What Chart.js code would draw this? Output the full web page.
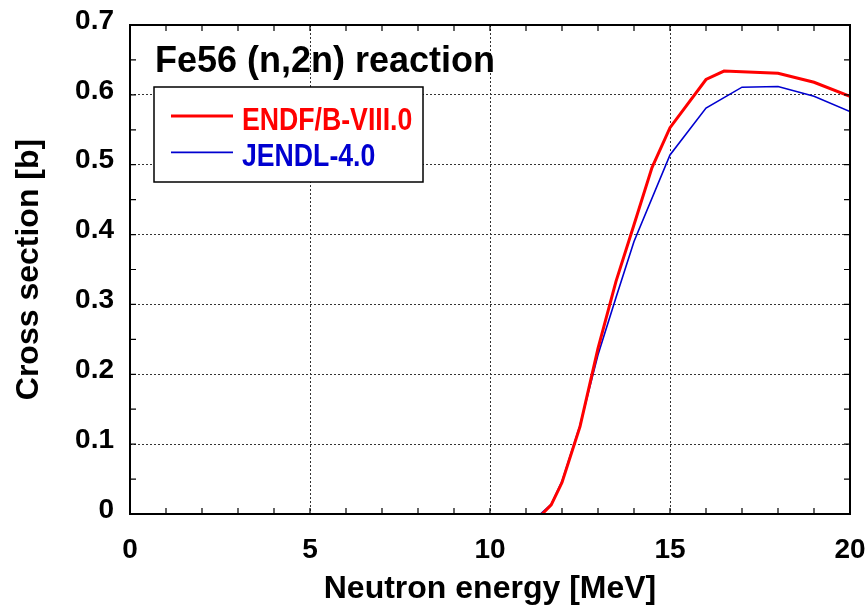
<!DOCTYPE html>
<html>
<head>
<meta charset="utf-8">
<script src="https://cdn.jsdelivr.net/npm/chart.js@4.4.1/dist/chart.umd.min.js"></script>
<style>
  html, body { margin: 0; padding: 0; background: #fff; }
  canvas { display: block; }
</style>
</head>
<body>
<canvas id="xsChart" width="865" height="609"></canvas>
<script>
// Fe56 (n,2n) cross section, two evaluations
const endfEnergy = [11.45, 11.7, 12.0, 12.5, 13.0, 13.5, 14.0, 14.5, 15.0, 16.0, 16.5, 18.0, 19.0, 20.0]
const endfXs     = [0, 0.013, 0.045, 0.125, 0.237, 0.333, 0.414, 0.496, 0.553, 0.622, 0.634, 0.631, 0.618, 0.598]

const jendlEnergy = [11.4, 11.7, 12.0, 12.5, 13.0, 13.5, 14.0, 15.0, 16.0, 17.0, 18.0, 19.0, 20.0]
const jendlXs     = [0, 0.014, 0.047, 0.127, 0.228, 0.31, 0.39, 0.514, 0.581, 0.611, 0.612, 0.598, 0.576]

const seriesLabels = ['ENDF/B-VIII.0', 'JENDL-4.0']
const seriesColors = ['#ff0000', '#0000d0']
const titleText = 'Fe56 (n,2n) reaction'

const FONT = '"Liberation Sans", Arial, sans-serif'

const toPoints = (xs, ys) => xs.map((x, i) => ({ x, y: ys[i] }))

// frame, inward tick marks, title and legend inside the plot
const framePlugin = {
  id: 'framePlugin',
  afterDatasetsDraw(chart) {
    const { ctx, chartArea: a, scales } = chart
    const xs = scales.x
    const ys = scales.y
    ctx.save()

    ctx.strokeStyle = '#000'
    ctx.lineWidth = 1.2
    ctx.beginPath()
    for (let e = 0; e <= 20; e += 1) {
      const px = xs.getPixelForValue(e)
      ctx.moveTo(px, a.bottom); ctx.lineTo(px, a.bottom - 6)
      ctx.moveTo(px, a.top); ctx.lineTo(px, a.top + 6)
    }
    for (let k = 0; k <= 14; k++) {
      const py = ys.getPixelForValue(k * 0.05)
      ctx.moveTo(a.left, py); ctx.lineTo(a.left + 6, py)
      ctx.moveTo(a.right, py); ctx.lineTo(a.right - 6, py)
    }
    ctx.stroke()

    ctx.lineWidth = 2
    ctx.strokeRect(a.left, a.top, a.right - a.left, a.bottom - a.top)

    // title
    ctx.fillStyle = '#000'
    ctx.font = 'bold 36px ' + FONT
    ctx.textBaseline = 'alphabetic'
    ctx.fillText(titleText, a.left + 25, a.top + 47)

    // legend box
    const bx = a.left + 24, by = a.top + 62, bw = 269, bh = 95
    ctx.fillStyle = '#fff'
    ctx.fillRect(bx, by, bw, bh)
    ctx.strokeStyle = '#000'
    ctx.lineWidth = 1.5
    ctx.strokeRect(bx, by, bw, bh)

    chart.data.datasets.forEach((ds, i) => {
      const ly = by + 29 + i * 36.4
      ctx.strokeStyle = ds.borderColor
      ctx.lineWidth = ds.borderWidth
      ctx.beginPath()
      ctx.moveTo(bx + 17, ly)
      ctx.lineTo(bx + 79, ly)
      ctx.stroke()

      ctx.save()
      ctx.translate(bx + 88, ly + 14)
      ctx.scale(0.86, 1)
      ctx.fillStyle = ds.borderColor
      ctx.font = 'bold 31px ' + FONT
      ctx.fillText(ds.label, 0, 0)
      ctx.restore()
    })

    ctx.restore()
  }
}

new Chart(document.getElementById('xsChart'), {
  type: 'line',
  data: {
    datasets: [
      {
        label: seriesLabels[0],
        data: toPoints(endfEnergy, endfXs),
        borderColor: seriesColors[0],
        borderWidth: 3,
        pointRadius: 0,
        tension: 0
      },
      {
        label: seriesLabels[1],
        data: toPoints(jendlEnergy, jendlXs),
        borderColor: seriesColors[1],
        borderWidth: 1.6,
        pointRadius: 0,
        tension: 0
      }
    ]
  },
  options: {
    responsive: false,
    animation: false,
    layout: { padding: { top: 25, right: 15, left: 0, bottom: 0 } },
    plugins: {
      legend: { display: false },
      tooltip: { enabled: false }
    },
    scales: {
      x: {
        type: 'linear',
        min: 0,
        max: 20,
        afterFit: (scale) => {
          scale.height = 95
          scale.paddingLeft = 0
          scale.paddingRight = 0
        },
        ticks: {
          stepSize: 5,
          padding: 19,
          color: '#000',
          font: { family: FONT, size: 28, weight: 'bold' }
        },
        grid: {
          drawTicks: false,
          color: '#333',
          lineWidth: 1
        },
        border: { display: false, dash: [2, 2] },
        title: {
          display: true,
          text: 'Neutron energy [MeV]',
          color: '#000',
          padding: { top: 0, bottom: 1 },
          font: { family: FONT, size: 32, weight: 'bold' }
        }
      },
      y: {
        min: 0,
        max: 0.7,
        afterFit: (scale) => {
          scale.width = 130
          scale.paddingTop = 0
          scale.paddingBottom = 0
        },
        ticks: {
          stepSize: 0.1,
          padding: 16,
          labelOffset: -4,
          color: '#000',
          font: { family: FONT, size: 28, weight: 'bold' },
          callback: (v) => (v === 0 ? '0' : v.toFixed(1))
        },
        grid: {
          drawTicks: false,
          color: '#333',
          lineWidth: 1
        },
        border: { display: false, dash: [2, 2] },
        title: {
          display: true,
          text: 'Cross section [b]',
          color: '#000',
          padding: { top: 10, bottom: 0 },
          font: { family: FONT, size: 32, weight: 'bold' }
        }
      }
    }
  },
  plugins: [framePlugin]
})
</script>
</body>
</html>
